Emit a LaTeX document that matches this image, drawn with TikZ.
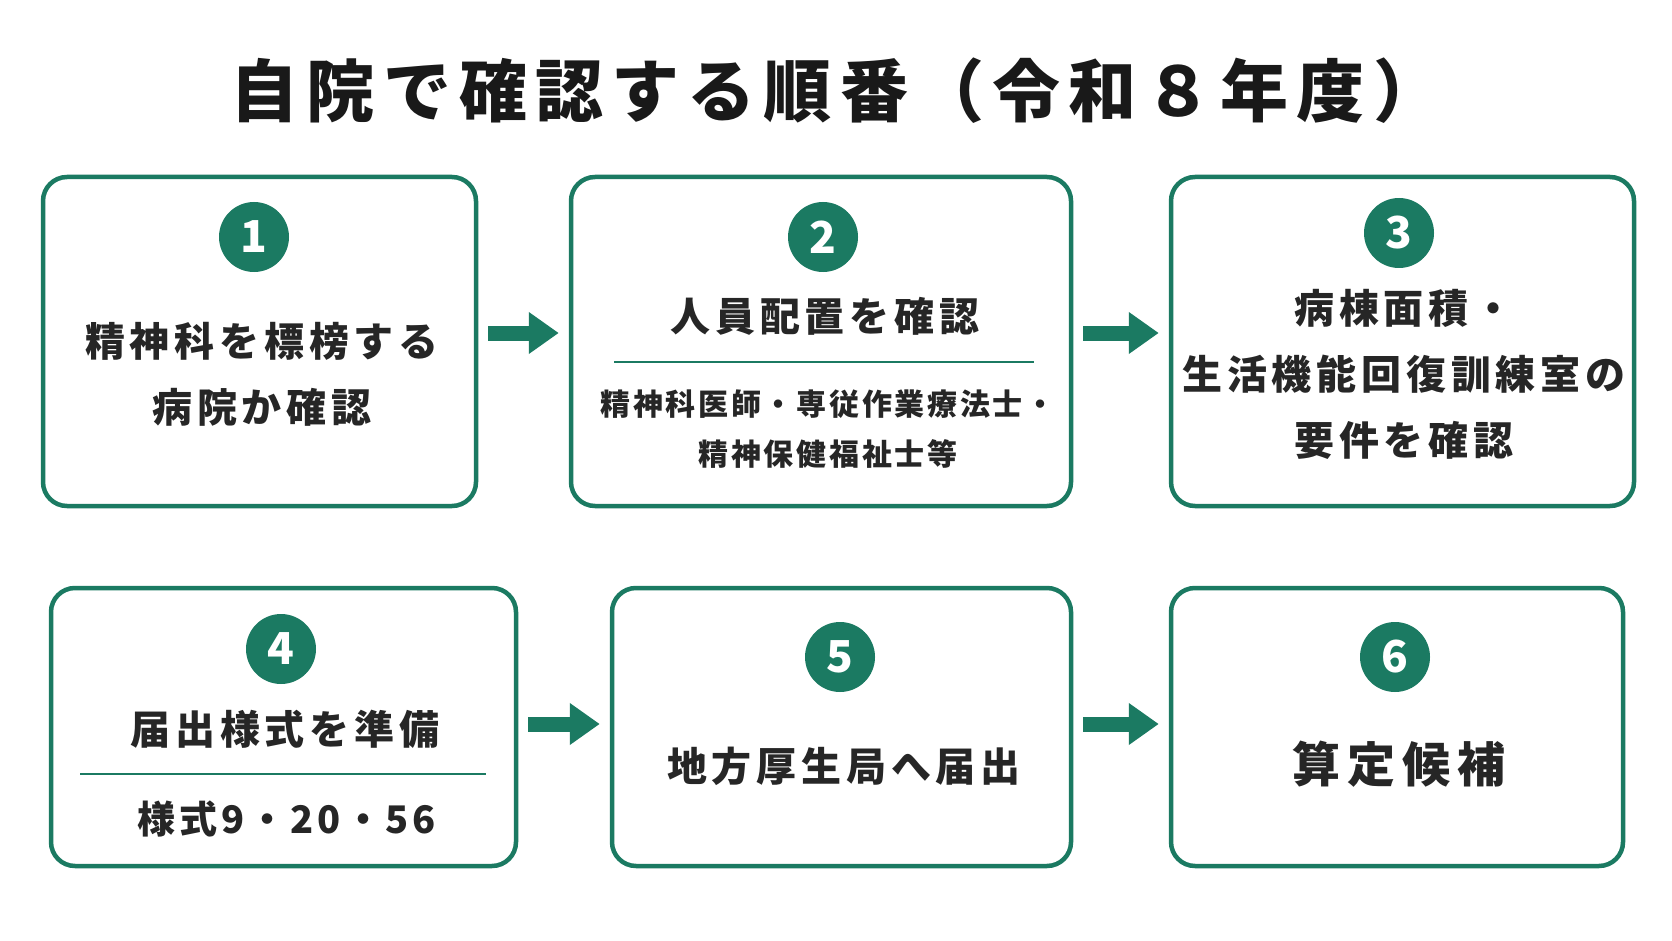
\documentclass[tikz,border=0pt]{standalone}
\usepackage{fontspec}
\setmainfont{Noto Sans CJK JP}
\usetikzlibrary{arrows.meta, positioning}
\definecolor{ggreen}{HTML}{1B7A62}
\tikzset{
    stepbox/.style={draw=ggreen, line width=4.5pt, rounded corners=24pt, fill=white},
    num/.style={circle, fill=ggreen, minimum size=70pt, inner sep=0pt, text=white,
        font=\fontsize{44}{44}\selectfont\bfseries},
    big/.style={font=\fontsize{40}{66}\selectfont\bfseries\addfontfeatures{LetterSpace=12}, align=center, text=black!85},
    small/.style={font=\fontsize{30}{50}\selectfont\bfseries\addfontfeatures{LetterSpace=9}, align=center, text=black!85},
    blk/.style={draw=ggreen, line width=15pt, -{Triangle[length=30pt, width=40pt]},
        shorten <=10pt, shorten >=10pt},
}
\begin{document}
\begin{tikzpicture}[x=1pt, y=-1pt]
    \useasboundingbox (0,0) rectangle (1672,941);

    % Title
    \node[font=\fontsize{68}{68}\selectfont\bfseries\addfontfeatures{LetterSpace=12}, text=black!90] (title) at (836,91) {自院で確認する順番（令和８年度）};

    % Boxes
    \node[stepbox, minimum width=433pt, minimum height=329pt] (b1) at (259.5,341.5) {};
    \node[stepbox, minimum width=500pt, minimum height=329pt] (b2) at (821,341.5) {};
    \node[stepbox, minimum width=463pt, minimum height=329pt] (b3) at (1402.5,341.5) {};
    \node[stepbox, minimum width=465pt, minimum height=278pt] (b4) at (283.5,727) {};
    \node[stepbox, minimum width=459pt, minimum height=278pt] (b5) at (841.5,727) {};
    \node[stepbox, minimum width=452pt, minimum height=278pt] (b6) at (1397,727) {};

    % Numbers
    \node[num] (n1) at (254,237) {1};
    \node[num] (n2) at (823,237) {2};
    \node[num] (n3) at (1399,233) {3};
    \node[num] (n4) at (281,649) {4};
    \node[num] (n5) at (840,657) {5};
    \node[num] (n6) at (1395,657) {6};

    % Texts
    \node[big] (t1) at (262,374) {精神科を標榜する\\病院か確認};
    \node[big] (t2) at (825,316) {人員配置を確認};
    \draw[ggreen, line width=2.5pt] (614,362) -- (1034,362);
    \node[small] (s2) at (828,429) {精神科医師・専従作業療法士・\\精神保健福祉士等};
    \node[big] (t3) at (1404,374) {病棟面積・\\生活機能回復訓練室の\\要件を確認};
    \node[big] (t4) at (285,729) {届出様式を準備};
    \draw[ggreen, line width=2.5pt] (80,774) -- (486,774);
    \node[big, font=\fontsize{38}{40}\selectfont\bfseries\addfontfeatures{LetterSpace=10}] (s4) at (287,819) {様式9・20・56};
    \node[big] (t5) at (844,766) {地方厚生局へ届出};
    \node[big, font=\fontsize{48}{48}\selectfont\bfseries\addfontfeatures{LetterSpace=14}] (t6) at (1399,764) {算定候補};

    % Arrows
    \draw[blk] (b1.east |- 0,333) -- (b2.west |- 0,333);
    \draw[blk] (b2.east |- 0,333) -- (b3.west |- 0,333);
    \draw[blk] (b4.east |- 0,724) -- (b5.west |- 0,724);
    \draw[blk] (b5.east |- 0,724) -- (b6.west |- 0,724);
\end{tikzpicture}
\end{document}
